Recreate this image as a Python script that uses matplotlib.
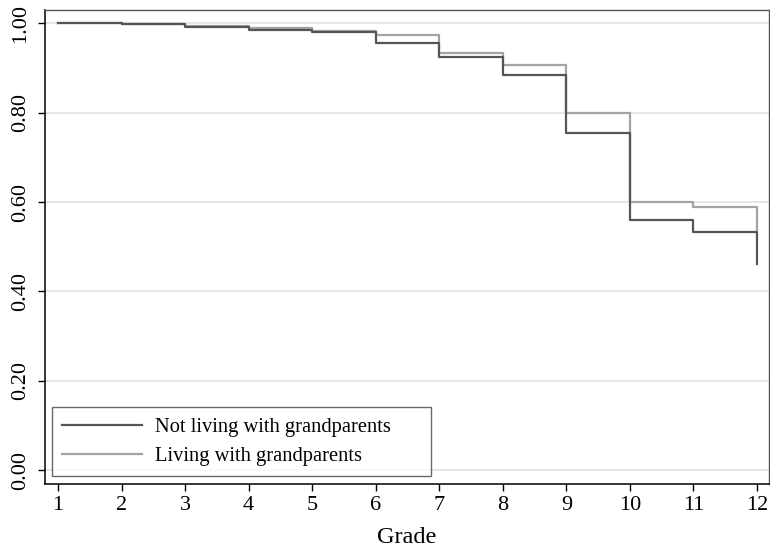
import matplotlib
matplotlib.use("Agg")
import matplotlib.pyplot as plt

grades = [1, 2, 3, 4, 5, 6, 7, 8, 9, 10, 11, 12]
not_living = [1.000, 0.998, 0.993, 0.986, 0.981, 0.956, 0.925, 0.884, 0.755, 0.559, 0.533, 0.461]
living = [1.000, 0.999, 0.995, 0.989, 0.984, 0.973, 0.934, 0.907, 0.800, 0.600, 0.589, 0.537]
yticks = [0.0, 0.2, 0.4, 0.6, 0.8, 1.0]
ytick_labels = ["0.00", "0.20", "0.40", "0.60", "0.80", "1.00"]

plt.rcParams['font.family'] = ['Liberation Serif', 'DejaVu Serif']

W, H = 770, 553
fig = plt.figure(figsize=(W / 100, H / 100), dpi=100)
ax = fig.add_axes([45 / W, (H - 484) / H, (769 - 45) / W, (484 - 10) / H])

for y in yticks:
    ax.axhline(y, color='#e2e2e2', lw=1.2, zorder=0)

ax.plot(grades, not_living, drawstyle='steps-post', color='#555555', lw=1.6,
        label='Not living with grandparents', zorder=3)
ax.plot(grades, living, drawstyle='steps-post', color='#a3a3a3', lw=1.6,
        label='Living with grandparents', zorder=2)

ax.set_xlim(0.795, 12.19)
ax.set_ylim(-0.031, 1.030)
ax.set_xticks(grades)
ax.set_xticklabels([str(g) for g in grades], fontsize=16)
ax.set_yticks(yticks)
ax.set_yticklabels(ytick_labels, fontsize=16, rotation=90, va='center')
ax.tick_params(axis='both', direction='out', length=5, width=1, colors='black')
ax.tick_params(axis='x', pad=4)
ax.tick_params(axis='y', pad=6)
ax.set_xlabel('Grade', fontsize=17.5, labelpad=8)

for side in ['top', 'right']:
    ax.spines[side].set_color('#555555')
    ax.spines[side].set_linewidth(1.0)
for side in ['left', 'bottom']:
    ax.spines[side].set_color('black')
    ax.spines[side].set_linewidth(1.1)

leg = ax.legend(loc='lower left', bbox_to_anchor=(0.0097, 0.0169, 0.524, 0.146),
                mode='expand', fontsize=14.8, frameon=True, fancybox=False,
                handlelength=3.9, handletextpad=0.6, borderaxespad=0,
                borderpad=0.5, labelspacing=0.45, edgecolor='#444444')
leg.get_frame().set_linewidth(1.0)

fig.savefig('out.png', dpi=100)
